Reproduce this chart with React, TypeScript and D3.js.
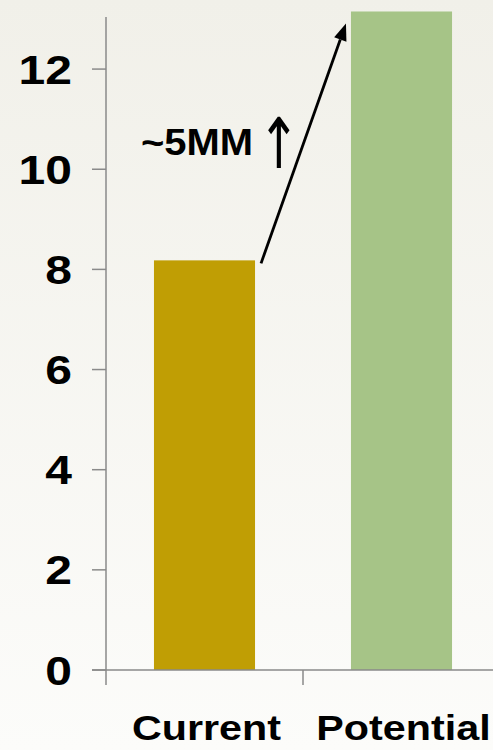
import React from "react";
import * as d3 from "d3";

const categories = ["Current", "Potential"];
const values = [8.18, 13.15];
const barColors = ["#c09e04", "#a6c487"];
const yTicks = [0, 2, 4, 6, 8, 10, 12];
const annotationLabel = "~5MM";
const annotationArrow = "↑";

const W = 493;
const H = 750;

export default function App() {
  const y = d3.scaleLinear().domain([0, 13.04]).range([670, 17]);
  const x = d3
    .scaleBand<string>()
    .domain(categories)
    .range([106, 500])
    .paddingInner(0.487)
    .paddingOuter(0.2435);
  const step = x.step();
  const axisX = 106;
  const baseY = y(0);
  const font = "'Liberation Sans', Arial, sans-serif";

  const x0 = (x("Current") as number) + x.bandwidth();
  const y0 = y(values[0]);
  const x1 = x("Potential") as number;
  const y1 = y(values[1]);
  const start: [number, number] = [x0 + 6, y0 + 3];
  const tip: [number, number] = [x1 - 5, y1 + 12];
  const ang = Math.atan2(tip[1] - start[1], tip[0] - start[0]);
  const hl = 17;
  const hw = 6.5;
  const bx = tip[0] - hl * Math.cos(ang);
  const by = tip[1] - hl * Math.sin(ang);
  const px = -Math.sin(ang);
  const py = Math.cos(ang);
  const head = `M${tip[0]},${tip[1]} L${bx + hw * px},${by + hw * py} L${bx - hw * px},${by - hw * py} Z`;

  return (
    <svg
      width={W}
      height={H}
      style={{ position: "absolute", left: 0, top: 0, display: "block" }}
    >
      <defs>
        <linearGradient id="bg" x1="0" y1="0" x2="0" y2="1">
          <stop offset="0" stopColor="#f1f0e9" />
          <stop offset="1" stopColor="#fcfcfa" />
        </linearGradient>
      </defs>
      <rect x={0} y={0} width={W} height={H} fill="url(#bg)" />

      {categories.map((c, i) => (
        <rect
          key={c}
          x={x(c)}
          y={y(values[i])}
          width={x.bandwidth()}
          height={baseY - y(values[i])}
          fill={barColors[i]}
        />
      ))}

      {/* y axis */}
      <line x1={axisX} x2={axisX} y1={y.range()[1]} y2={baseY} stroke="#8a8a8a" strokeWidth={1.5} />
      {yTicks.map((t) => (
        <g key={t}>
          <line x1={axisX - 14} x2={axisX} y1={y(t)} y2={y(t)} stroke="#8a8a8a" strokeWidth={1.5} />
          <text
            transform={`translate(72,${y(t) + 14.5}) scale(1.2,1)`}
            textAnchor="end"
            fontFamily={font}
            fontWeight="bold"
            fontSize={40}
            fill="#000"
          >
            {t}
          </text>
        </g>
      ))}

      {/* x axis */}
      <line x1={axisX - 14} x2={W} y1={baseY} y2={baseY} stroke="#8a8a8a" strokeWidth={1.5} />
      {[0, 1, 2].map((i) => (
        <line
          key={i}
          x1={axisX + i * step}
          x2={axisX + i * step}
          y1={baseY}
          y2={baseY + 15}
          stroke="#8a8a8a"
          strokeWidth={1.5}
        />
      ))}
      {categories.map((c) => (
        <text
          key={c}
          transform={`translate(${(x(c) as number) + x.bandwidth() / 2 + 2},740) scale(1.18,1)`}
          textAnchor="middle"
          fontFamily={font}
          fontWeight="bold"
          fontSize={35}
          fill="#000"
        >
          {c}
        </text>
      ))}

      {/* annotation */}
      <line
        x1={start[0]}
        y1={start[1]}
        x2={bx}
        y2={by}
        stroke="#000"
        strokeWidth={2.8}
      />
      <path d={head} fill="#000" />
      <text
        transform={`translate(141,155) scale(1.08,1)`}
        fontFamily={font}
        fontWeight="bold"
        fontSize={37}
        fill="#000"
      >
        {annotationLabel}
      </text>
      <text
        transform={`translate(279,168) scale(1,1.4)`}
        textAnchor="middle"
        fontFamily="'DejaVu Sans', sans-serif"
        fontSize={50}
        fill="#000"
      >
        {annotationArrow}
      </text>
    </svg>
  );
}
